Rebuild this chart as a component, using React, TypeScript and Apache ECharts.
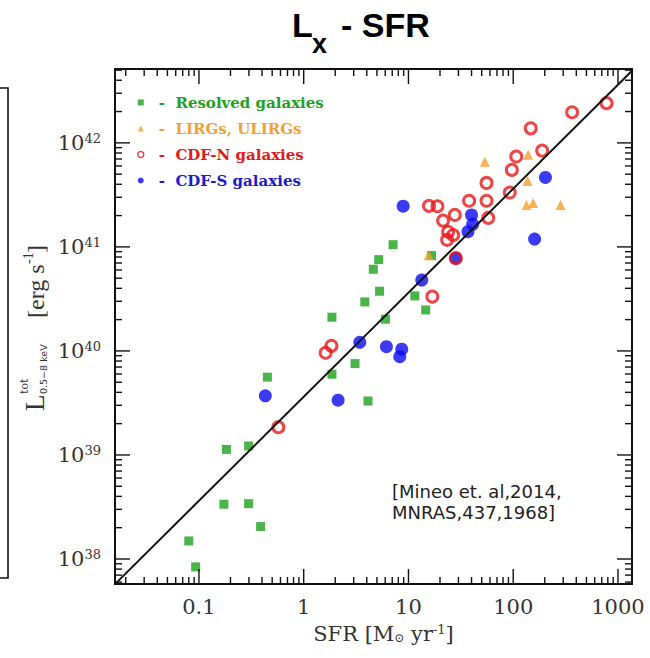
import React, { useEffect, useRef } from "react";
import * as echarts from "echarts";

// ---------- data (SFR [Msun/yr], L_X [erg/s]) ----------
const resolvedSFR = [0.183, 0.298, 0.173, 0.298, 0.388, 0.080, 0.093, 0.45, 4.11, 1.86, 1.86, 3.09, 3.83, 4.62, 5.2, 5.3, 7.13, 11.5, 6.03, 14.6, 16.6];
const resolvedL = [1.13e39, 1.22e39, 3.36e38, 3.4e38, 2.05e38, 1.49e38, 8.4e37, 5.6e39, 3.3e39, 2.11e40, 5.97e39, 7.55e39, 2.96e40, 6.1e40, 7.55e40, 3.75e40, 1.05e41, 3.38e40, 2.02e40, 2.48e40, 8.26e40];

const lirgSFR = [15.6, 53.5, 139, 137, 134, 155, 283];
const lirgL = [8.3e40, 6.6e41, 7.7e41, 4.3e41, 2.53e41, 2.64e41, 2.53e41];

const cdfnSFR = [0.573, 1.62, 1.84, 16.9, 28.3, 15.7, 18.9, 21.4, 27.7, 37.9, 55.6, 55.6, 57.8, 92.7, 97, 107, 147, 189, 365, 778, 23.9, 26.7, 23.4];
const cdfnL = [1.85e39, 9.6e39, 1.12e40, 3.33e40, 7.8e40, 2.48e41, 2.46e41, 1.79e41, 2.03e41, 2.78e41, 2.78e41, 4.12e41, 1.9e41, 3.33e41, 5.5e41, 7.4e41, 1.38e42, 8.43e41, 1.97e42, 2.41e42, 1.4e41, 1.3e41, 1.17e41];

const cdfsSFR = [0.43, 2.13, 3.43, 6.16, 8.63, 8.26, 8.9, 13.4, 28.3, 40, 41, 37, 203, 160];
const cdfsL = [3.7e39, 3.36e39, 1.21e40, 1.1e40, 1.04e40, 8.8e39, 2.46e41, 4.8e40, 7.8e40, 2.03e41, 1.65e41, 1.4e41, 4.65e41, 1.19e41];

// linear relation L = K * SFR
const FIT_K = 3.63e39;
const FIT_SFR = [0.0158, 1361];

// axes
const X_MIN = 0.0158;
const X_MAX = 1361;
const Y_MIN = 5.75e37;
const Y_MAX = 5.13e42;
const xMajorTicks = [0.1, 1, 10, 100, 1000];
const yMajorExps = [38, 39, 40, 41, 42];
const xDecades = [-2, -1, 0, 1, 2, 3];
const yDecades = [37, 38, 39, 40, 41, 42];

const seriesNames = ["Resolved galaxies", "LIRGs, ULIRGs", "CDF-N galaxies", "CDF-S galaxies"];

const GREEN = "#1ba31b";
const ORANGE = "#f59c28";
const RED = "#e81818";
const BLUE = "#0a0af0";

const zip = (a: number[], b: number[]) => a.map((v, i) => [v, b[i]]);

function buildTicks(decades: number[], majors: number[], lo: number, hi: number) {
  const out: number[][] = [];
  decades.forEach((d) => {
    for (let m = 1; m <= 9; m++) {
      const v = m * Math.pow(10, d);
      if (v > lo && v < hi) {
        const isMajor = m === 1 && majors.some((t) => Math.abs(Math.log10(t) - d) < 1e-9);
        out.push([v, isMajor ? 1 : 0]);
      }
    }
  });
  return out;
}

const SERIF = "DejaVu Serif";
const TSERIF = "Liberation Serif";
const TICK_COLOR = "#111";

export default function App() {
  const ref = useRef<HTMLDivElement>(null);

  useEffect(() => {
    const chart = echarts.init(ref.current!, null, { renderer: "svg" });

    const xTicks = buildTicks(xDecades, xMajorTicks, X_MIN, X_MAX).map(([v, m]) => [v, 1e40, m]);
    const yTicks = buildTicks(yDecades, yMajorExps.map((e) => Math.pow(10, e)), Y_MIN, Y_MAX).map(([v, m]) => [1, v, m]);

    const tickSeries = (axis: "x" | "y", data: number[][]) => ({
      type: "custom",
      name: "ticks-" + axis,
      silent: true,
      clip: false,
      z: 6,
      data,
      renderItem: (params: any, api: any) => {
        const cs = params.coordSys;
        const major = api.value(2) === 1;
        const len = major ? 15 : 7;
        const style = { stroke: TICK_COLOR, lineWidth: 1.4 };
        if (axis === "x") {
          const px = api.coord([api.value(0), api.value(1)])[0];
          const b = cs.y + cs.height;
          const t = cs.y;
          return {
            type: "group",
            children: [
              { type: "line", shape: { x1: px, y1: b, x2: px, y2: b - len }, style },
              { type: "line", shape: { x1: px, y1: t, x2: px, y2: t + len }, style },
            ],
          };
        }
        const py = api.coord([api.value(0), api.value(1)])[1];
        const l = cs.x;
        const r = cs.x + cs.width;
        return {
          type: "group",
          children: [
            { type: "line", shape: { x1: l, y1: py, x2: l + len, y2: py }, style },
            { type: "line", shape: { x1: r, y1: py, x2: r - len, y2: py }, style },
          ],
        };
      },
    });

    const option: any = {
      animation: false,
      backgroundColor: "#ffffff",
      grid: {
        left: 115,
        right: 18,
        top: 69,
        bottom: 74,
        show: true,
        borderColor: "#111",
        borderWidth: 2,
        backgroundColor: "transparent",
      },
      xAxis: {
        type: "log",
        logBase: 10,
        min: X_MIN,
        max: X_MAX,
        axisLine: { show: false },
        axisTick: { show: false },
        splitLine: { show: false },
        axisLabel: {
          showMinLabel: false,
          showMaxLabel: false,
          margin: 12,
          fontFamily: SERIF,
          fontSize: 21,
          color: "#333",
          formatter: (v: number) => (v < 1 ? v.toFixed(1) : String(Math.round(v))),
        },
        name: "{n|SFR [M}{sub|⊙}{n| yr}{sup|-1}{n|]}",
        nameLocation: "middle",
        nameGap: 39,
        nameTextStyle: {
          padding: [0, 0, 0, 20],
          rich: {
            n: { fontFamily: SERIF, fontSize: 21, color: "#333" },
            sub: { fontFamily: SERIF, fontSize: 12, color: "#333", verticalAlign: "bottom" },
            sup: { fontFamily: SERIF, fontSize: 13, color: "#333", verticalAlign: "top" },
          },
        },
      },
      yAxis: {
        type: "log",
        logBase: 10,
        min: Y_MIN,
        max: Y_MAX,
        axisLine: { show: false },
        axisTick: { show: false },
        splitLine: { show: false },
        axisLabel: {
          showMinLabel: false,
          showMaxLabel: false,
          margin: 14,
          formatter: (v: number) => `{b|10}{s|${Math.round(Math.log10(v))}}`,
          rich: {
            b: { fontFamily: SERIF, fontSize: 21, color: "#333" },
            s: { fontFamily: SERIF, fontSize: 13, color: "#333", verticalAlign: "top" },
          },
        },
      },
      legend: {
        orient: "vertical",
        left: 132,
        top: 89,
        itemWidth: 6,
        itemHeight: 6,
        itemGap: 9,
        selectedMode: false,
        textStyle: {
          fontFamily: SERIF,
          fontWeight: "bold",
          fontSize: 15,
          lineHeight: 17,
          padding: [0, 0, 0, 10],
        },
        formatter: (name: string) => "-  " + name,
        data: [
          { name: seriesNames[0], icon: "rect", itemStyle: { color: GREEN }, textStyle: { color: "#22a022" } },
          { name: seriesNames[1], icon: "triangle", itemStyle: { color: ORANGE }, textStyle: { color: "#f0a038" } },
          {
            name: seriesNames[2],
            icon: "circle",
            itemStyle: { color: "rgba(0,0,0,0)", borderColor: RED, borderWidth: 1.5 },
            textStyle: { color: "#e01b1b" },
          },
          { name: seriesNames[3], icon: "circle", itemStyle: { color: BLUE }, textStyle: { color: "#1c1cc8" } },
        ],
      },
      series: [
        {
          name: seriesNames[0],
          type: "scatter",
          symbol: "rect",
          symbolSize: 9,
          itemStyle: { color: GREEN },
          data: zip(resolvedSFR, resolvedL),
          z: 2,
        },
        {
          name: seriesNames[1],
          type: "scatter",
          symbol: "triangle",
          symbolSize: 10,
          itemStyle: { color: ORANGE },
          data: zip(lirgSFR, lirgL),
          z: 2,
        },
        {
          name: seriesNames[3],
          type: "scatter",
          symbol: "circle",
          symbolSize: 13,
          itemStyle: { color: BLUE },
          data: zip(cdfsSFR, cdfsL),
          z: 2,
        },
        {
          name: seriesNames[2],
          type: "scatter",
          symbol: "circle",
          symbolSize: 11,
          itemStyle: { color: "rgba(0,0,0,0)", borderColor: RED, borderWidth: 3 },
          data: zip(cdfnSFR, cdfnL),
          z: 2,
        },
        {
          name: "fit",
          type: "line",
          showSymbol: false,
          symbol: "none",
          silent: true,
          clip: true,
          lineStyle: { color: "#111", width: 2 },
          data: FIT_SFR.map((s) => [s, FIT_K * s]),
          z: 4,
        },
        tickSeries("x", xTicks),
        tickSeries("y", yTicks),
      ],
      graphic: [
        // title
        {
          type: "text",
          x: 292,
          y: 25,
          style: { text: "L", fontFamily: "Liberation Sans", fontWeight: "bold", fontSize: 34, fill: "#000", verticalAlign: "middle" },
        },
        {
          type: "text",
          x: 312,
          y: 44,
          style: { text: "x", fontFamily: "Liberation Sans", fontWeight: "bold", fontSize: 27, fill: "#000", verticalAlign: "middle" },
        },
        {
          type: "text",
          x: 341,
          y: 25,
          style: { text: "- SFR", fontFamily: "Liberation Sans", fontWeight: "bold", fontSize: 34, fill: "#000", verticalAlign: "middle" },
        },
        // y-axis name (rotated)
        {
          type: "group",
          x: 44,
          y: 411,
          rotation: Math.PI / 2,
          children: [
            { type: "text", x: 0, y: -9, style: { text: "L", fontFamily: TSERIF, fontSize: 27, fill: "#333", verticalAlign: "middle" } },
            { type: "text", x: 17, y: -20, style: { text: "tot", fontFamily: SERIF, fontSize: 11, fill: "#333", verticalAlign: "middle" } },
            { type: "text", x: 17, y: -1, style: { text: "0.5−8 keV", fontFamily: "DejaVu Sans", fontSize: 9.5, fill: "#333", verticalAlign: "middle" } },
            { type: "text", x: 93, y: -8, style: { text: "[erg s", fontFamily: TSERIF, fontSize: 24, fill: "#333", verticalAlign: "middle" } },
            { type: "text", x: 147, y: -16, style: { text: "-1", fontFamily: TSERIF, fontSize: 14, fill: "#333", verticalAlign: "middle" } },
            { type: "text", x: 158, y: -8, style: { text: "]", fontFamily: TSERIF, fontSize: 24, fill: "#333", verticalAlign: "middle" } },
          ],
        },
        // citation
        {
          type: "text",
          x: 392,
          y: 481,
          style: {
            text: "[Mineo et. al,2014,\nMNRAS,437,1968]",
            fontFamily: "DejaVu Sans",
            fontSize: 18,
            lineHeight: 21,
            fill: "#222",
            verticalAlign: "top",
          },
        },
        // edge of neighbouring panel
        {
          type: "rect",
          shape: { x: -6, y: 88, width: 14, height: 490 },
          style: { fill: "none", stroke: "#111", lineWidth: 1.6 },
        },
      ],
    };

    chart.setOption(option);
    return () => chart.dispose();
  }, []);

  return (
    <div
      ref={ref}
      style={{ position: "fixed", left: 0, top: 0, width: 650, height: 658, background: "#fff" }}
    />
  );
}
